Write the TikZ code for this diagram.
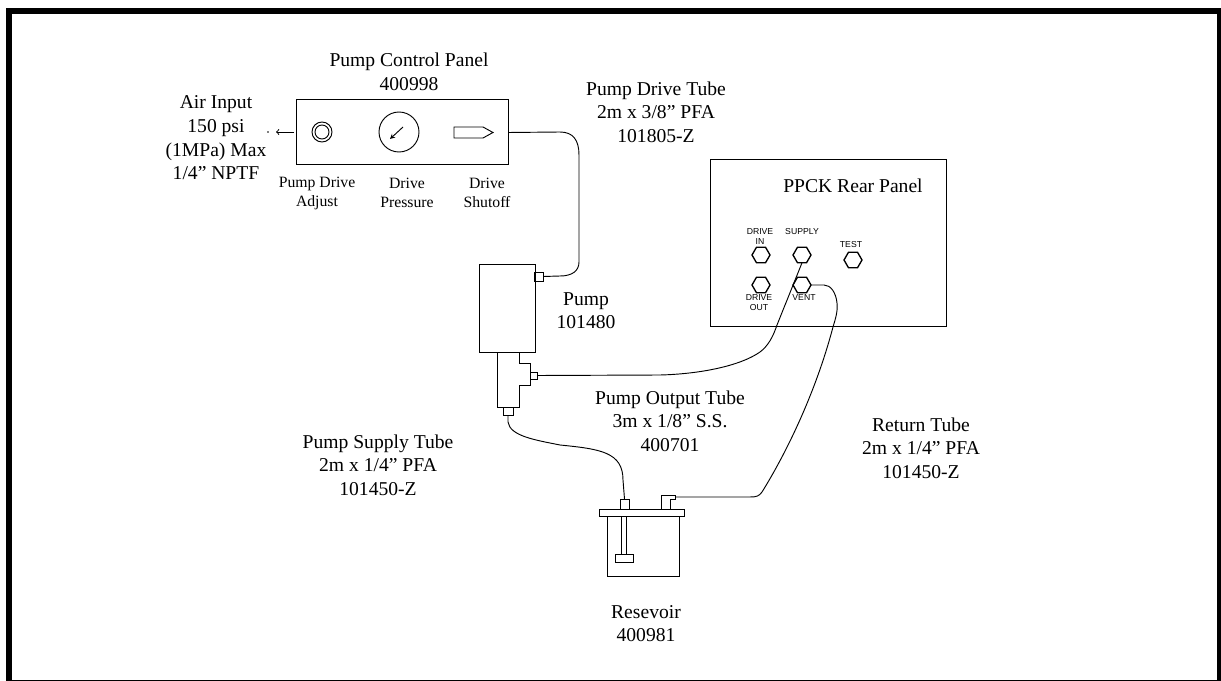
\documentclass[tikz,border=0pt]{standalone}
\usepackage{fontspec}
\setmainfont{Liberation Serif}
\setsansfont{Liberation Sans}
\usetikzlibrary{shapes.geometric}
\tikzset{
  part/.style={draw,line width=0.75pt,inner sep=0pt,outer sep=0pt},
  fitting/.style={part,minimum width=5.5pt,minimum height=5.5pt},
  port/.style={part,line width=1pt,regular polygon,regular polygon sides=6,shape border rotate=0,minimum size=13.5pt},
  tube/.style={line width=0.7pt},
  biglabel/.style={align=center,inner sep=0pt,font=\fontsize{14.7}{17.7}\selectfont},
  smalllabel/.style={align=center,inner sep=0pt,font=\fontsize{11.8}{14.2}\selectfont},
  portlabel/.style={align=center,inner sep=0pt,font=\sffamily\fontsize{6.5}{6.9}\selectfont},
}
\begin{document}
\begin{tikzpicture}[x=0.75pt,y=-0.75pt]
  \useasboundingbox (0,0) rectangle (1221,681);
  \clip (0,0) rectangle (1221,681);
  % outer frame
  \draw[line width=4.5pt] (9,11) rectangle (1220,683);
  % control panel
  \node[part,minimum width=159pt,minimum height=48.75pt] (panel) at (402,132.5) {};
  \draw[line width=0.7pt] (322,132) circle (10) (322,132) circle (7);
  \draw[line width=0.7pt] (399,132) circle (20);
  \draw[line width=0.7pt,-stealth] (403,127)--(390,139);
  \draw[line width=0.7pt] (454,127)--(483,127)--(493,132.5)--(483,138)--(454,138)--cycle;
  \node[biglabel] (paneltitle) at (409,71.5) {Pump Control Panel\\400998};
  \node[smalllabel] (adjust) at (317,193) {Pump Drive\\Adjust};
  \node[smalllabel] (pressure) at (407,193) {Drive\\Pressure};
  \node[smalllabel] (shutoff) at (487,193) {Drive\\Shutoff};
  % air input
  \node[biglabel] (airinput) at (216,138) {Air Input\\150 psi\\(1MPa) Max\\1/4” NPTF};
  \coordinate (airend) at (276,132);
  \coordinate (airstart) at (294,132);
  \draw[line width=0.7pt,->] (airstart)--(airend);
  \fill (268,132) circle (0.8);
  % pump
  \node[part,minimum width=42pt,minimum height=66pt] (pump) at (507,308) {};
  \draw[line width=0.75pt] (497,352)--(497,407)--(519,407)--(519,385)--(530,385)--(530,363)--(519,363)--(519,352);
  \node[fitting,minimum width=6.25pt,minimum height=6.75pt] (drivefit) at (539,276.5) {};
  \node[fitting,minimum width=5.25pt,minimum height=5.25pt] (outfit) at (533.5,375.5) {};
  \node[fitting,minimum width=7.5pt,minimum height=6.5pt] (supplyfit) at (508,411.5) {};
  \node[biglabel] (pumplabel) at (586,310.5) {Pump\\101480};
  % reservoir
  \draw[line width=0.75pt] (607,516)--(607,576)--(679,576)--(679,516);
  \node[part,minimum width=63.75pt,minimum height=5.25pt] (flange) at (641.5,512.5) {};
  \node[part,minimum width=6.75pt,minimum height=7.5pt] (tankfit) at (624.5,504) {};
  \draw[line width=0.75pt] (621,516)--(621,554) (626,516)--(626,554);
  \node[part,minimum width=13.5pt,minimum height=6pt] (foot) at (624,558) {};
  \draw[line width=0.75pt] (661,509)--(661,495)--(675,495)--(675,499)--(670,499)--(670,509);
  \coordinate (returnfit) at (675,497);
  \node[biglabel] (tanklabel) at (646,623.5) {Resevoir\\400981};
  % rear panel
  \node[part,minimum width=177pt,minimum height=124.5pt] (rear) at (828,243) {};
  \node[biglabel] (reartitle) at (853,186) {PPCK Rear Panel};
  \node[port] (drivein) at (761,255) {};
  \node[port] (supply) at (802,255) {};
  \node[port] (test) at (853,260) {};
  \node[port] (driveout) at (761,285) {};
  \node[port] (vent) at (802,285) {};
  \node[portlabel] (driveinlabel) at (760,236.5) {DRIVE\\IN};
  \node[portlabel] (supplylabel) at (802,232) {SUPPLY};
  \node[portlabel] (testlabel) at (851,245) {TEST};
  \node[portlabel] (driveoutlabel) at (759,302.5) {DRIVE\\OUT};
  \node[portlabel] (ventlabel) at (804,298) {VENT};
  % tubes
  \draw[tube] (panel.east)--(560,132) .. controls (573,132) and (579,140) .. (579,155)
    --(579,262) .. controls (579,271) and (572,276) .. (560,276)--(drivefit.east);
  \draw[tube] (outfit.east)--(660,375) .. controls (700,374) and (740,366) .. (760,352)
    .. controls (768,346) and (773,337) .. (777,325)--(supply.south);
  \draw[tube] (supplyfit.south)--(508,422) .. controls (510,436) and (535,440) .. (560,445)
    .. controls (600,449) and (623,452) .. (623,480)--(tankfit.north);
  \draw[tube] (returnfit)--(750,497) .. controls (757,497) and (759,496) .. (762,492)
    .. controls (785,455) and (815,395) .. (833,327) .. controls (835,320) and (838,312) .. (837,303)
    .. controls (836,293) and (831,285) .. (824,285)--(vent.east);
  % tube labels
  \node[biglabel] (drivetube) at (656,112) {Pump Drive Tube\\2m x 3/8” PFA\\101805-Z};
  \node[biglabel] (outputtube) at (670,421) {Pump Output Tube\\3m x 1/8” S.S.\\400701};
  \node[biglabel] (returntube) at (921,448) {Return Tube\\2m x 1/4” PFA\\101450-Z};
  \node[biglabel] (supplytube) at (378,465) {Pump Supply Tube\\2m x 1/4” PFA\\101450-Z};
\end{tikzpicture}
\end{document}
